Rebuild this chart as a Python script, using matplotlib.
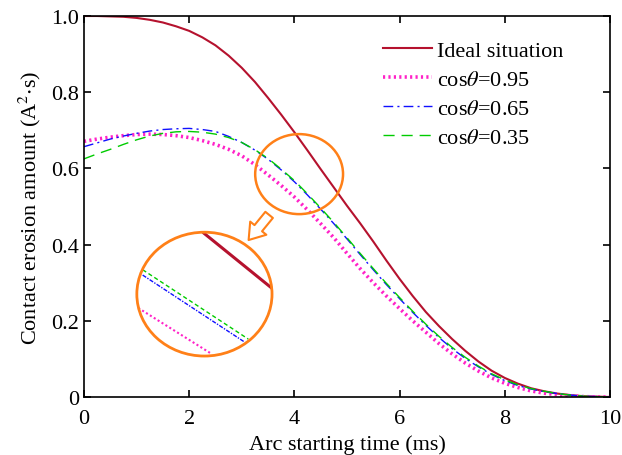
import numpy as np
import matplotlib.pyplot as plt
from matplotlib.patches import Ellipse

plt.rcParams['font.family'] = ['Liberation Serif', 'DejaVu Serif']
plt.rcParams['mathtext.fontset'] = 'stix'

# arc starting time (ms)
t = [0.0, 0.25, 0.5, 0.75, 1.0, 1.25, 1.5, 1.75, 2.0, 2.25,
     2.5, 2.75, 3.0, 3.25, 3.5, 3.75, 4.0, 4.25, 4.5, 4.75,
     5.0, 5.25, 5.5, 5.75, 6.0, 6.25, 6.5, 6.75, 7.0, 7.25,
     7.5, 7.75, 8.0, 8.25, 8.5, 8.75, 9.0, 9.25, 9.5, 9.75, 10.0]

# contact erosion amount for each case
ideal = [1.000, 1.000, 0.999, 0.998, 0.995, 0.990, 0.983, 0.973, 0.961, 0.944,
         0.923, 0.896, 0.864, 0.827, 0.785, 0.741, 0.695, 0.647, 0.598, 0.550,
         0.502, 0.456, 0.408, 0.358, 0.310, 0.265, 0.223, 0.186, 0.152, 0.121,
         0.093, 0.069, 0.050, 0.035, 0.023, 0.015, 0.009, 0.005, 0.002, 0.001, 0.000]
cos095 = [0.671, 0.677, 0.682, 0.686, 0.689, 0.690, 0.689, 0.686, 0.681, 0.673,
          0.663, 0.650, 0.633, 0.610, 0.583, 0.555, 0.525, 0.491, 0.455, 0.418,
          0.377, 0.337, 0.300, 0.265, 0.232, 0.200, 0.170, 0.140, 0.113, 0.089,
          0.068, 0.050, 0.036, 0.025, 0.016, 0.010, 0.006, 0.003, 0.001, 0.000, 0.000]
cos065 = [0.657, 0.667, 0.677, 0.685, 0.692, 0.698, 0.702, 0.704, 0.705, 0.702,
          0.697, 0.684, 0.668, 0.648, 0.624, 0.596, 0.565, 0.530, 0.493, 0.455,
          0.415, 0.374, 0.334, 0.295, 0.258, 0.222, 0.188, 0.156, 0.127, 0.101,
          0.079, 0.059, 0.043, 0.030, 0.021, 0.014, 0.009, 0.005, 0.002, 0.001, 0.000]
cos035 = [0.625, 0.638, 0.650, 0.663, 0.675, 0.685, 0.692, 0.696, 0.697, 0.695,
          0.690, 0.681, 0.668, 0.649, 0.626, 0.598, 0.568, 0.533, 0.496, 0.458,
          0.418, 0.377, 0.337, 0.298, 0.261, 0.225, 0.191, 0.159, 0.130, 0.104,
          0.081, 0.061, 0.045, 0.032, 0.022, 0.015, 0.009, 0.005, 0.002, 0.001, 0.000]

labels = ['Ideal situation', r'cos$\theta$=0.95', r'cos$\theta$=0.65', r'cos$\theta$=0.35']

red = '#B5122E'
pink = '#FF22C8'
blue = '#1010FF'
green = '#00CC00'
orange = '#FF8018'


def main():
    fig = plt.figure(figsize=(6.22, 4.56), dpi=100)
    ax = fig.add_axes([0.135, 0.1272, 0.8457, 0.8355])

    # main curves
    ax.plot(t, ideal, color=red, lw=1.5, label=labels[0])
    ax.plot(t, cos095, color=pink, lw=2.6, ls=(0, (0.6, 0.9)), label=labels[1])
    ax.plot(t, cos065, color=blue, lw=1.0, ls=(0, (7, 3, 1.5, 3)), label=labels[2])
    ax.plot(t, cos035, color=green, lw=1.0, ls=(0, (8, 5)), label=labels[3])

    # zoom marker: small circle, arrow and enlarged circle
    ax.add_patch(Ellipse((4.09, 0.585), 1.67, 0.21, fill=False, ec=orange, lw=1.8, zorder=5))
    ax.add_patch(Ellipse((2.29, 0.270), 2.57, 0.325, fill=False, ec=orange, lw=2.0, zorder=5))
    ax.annotate('', xy=(3.13, 0.412), xytext=(3.52, 0.478),
                arrowprops=dict(arrowstyle='simple,head_length=0.55,head_width=0.75,tail_width=0.35',
                                fc='white', ec=orange, lw=1.5, mutation_scale=20,
                                shrinkA=0, shrinkB=0), zorder=6)

    # enlarged segments inside the big circle
    ax.plot([2.28, 3.55], [0.430, 0.288], color=red, lw=2.2, zorder=4)
    ax.plot([1.116, 3.124], [0.334, 0.152], color=green, lw=1.0, ls=(0, (3, 2)), zorder=4)
    ax.plot([1.116, 3.06], [0.320, 0.1436], color=blue, lw=1.0, ls=(0, (3, 1, 1, 1)), zorder=4)
    ax.plot([1.032, 2.428], [0.2336, 0.113], color=pink, lw=1.5, ls=(0, (1, 1.2)), zorder=4)

    # axes
    ax.set_xlim(0, 10)
    ax.set_ylim(0, 1.0)
    ax.set_xticks([0, 2, 4, 6, 8, 10])
    ax.set_yticks([0, 0.2, 0.4, 0.6, 0.8, 1.0])
    ax.set_yticklabels(['0', '0.2', '0.4', '0.6', '0.8', '1.0'])
    ax.tick_params(direction='in', top=True, right=True, length=5, width=1.2,
                   labelsize=16, colors='black')
    ax.tick_params(axis='x', pad=9)
    for s in ax.spines.values():
        s.set_linewidth(1.2)

    ax.set_xlabel('Arc starting time (ms)', fontsize=16, labelpad=4)
    ax.set_ylabel(r'Contact erosion amount (A$^{2}$$\cdot$s)', fontsize=16, labelpad=6)

    ax.legend(loc='upper left', bbox_to_anchor=(0.568, 0.937), frameon=False,
              fontsize=16, handlelength=2.2, handletextpad=0.25, labelspacing=0.38,
              borderpad=0, borderaxespad=0)

    fig.savefig('out.png', dpi=100)


if __name__ == "__main__":
    main()
